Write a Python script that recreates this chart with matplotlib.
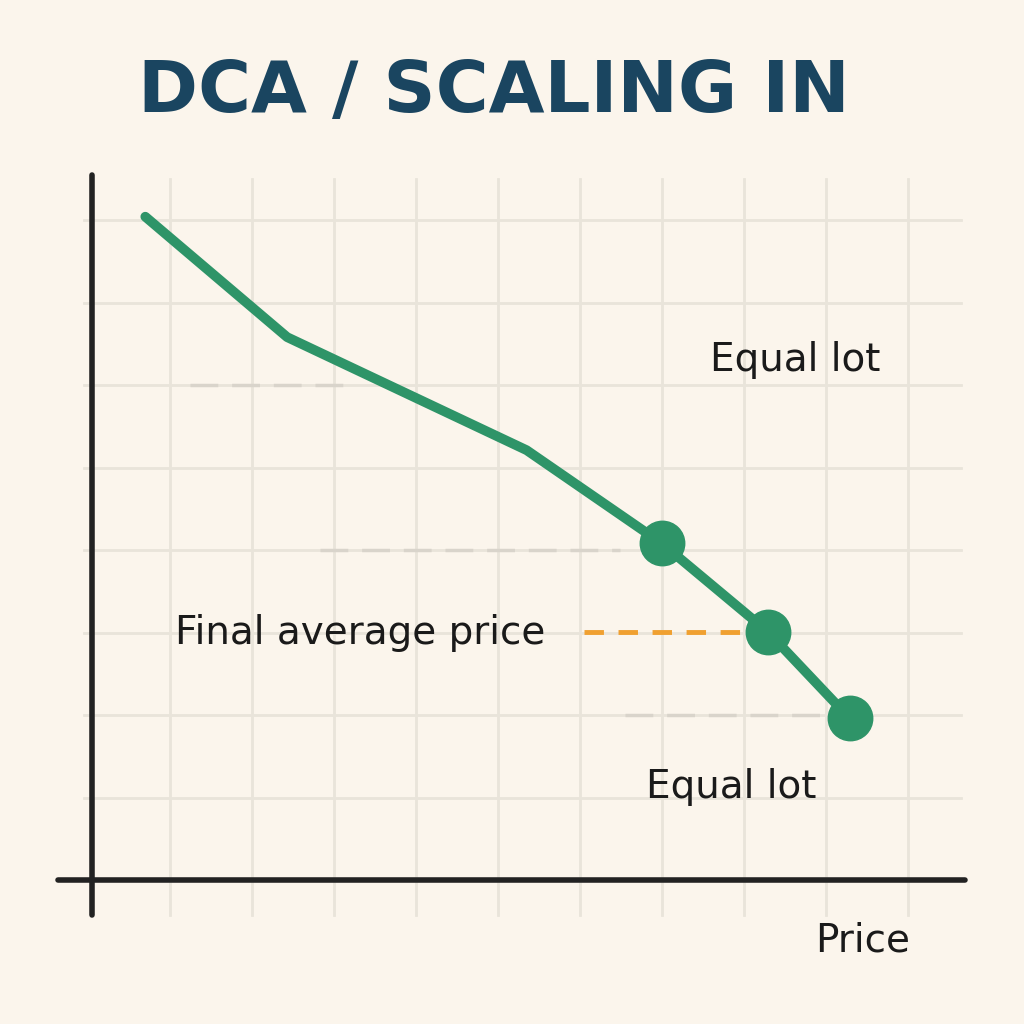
import matplotlib
matplotlib.use("Agg")
import matplotlib.pyplot as plt

x_vals = [0.65, 2.38, 5.30, 6.95, 8.24, 9.24]
y_vals = [8.04, 6.58, 5.21, 4.08, 3.01, 1.96]
marker_idx = [3, 4, 5]
avg_price = 3.01

bg = "#fbf5ec"
green = "#2e9468"
fig = plt.figure(figsize=(10.24, 10.24), dpi=100, facecolor=bg)
ax = fig.add_axes([0, 0, 1, 1])
ax.set_facecolor(bg)
ax.set_xlim(-92/82, (1024-92)/82)
ax.set_ylim(-144/82.5, 880/82.5)
ax.axis("off")

grid_c = "#e9e4da"
for i in range(1, 11):
    ax.plot([i - 0.05, i - 0.05], [-0.43, 8.5], color=grid_c, lw=2, zorder=0)
for j in range(1, 9):
    ax.plot([-0.1, 10.6], [j, j], color=grid_c, lw=2, zorder=0)

ax.plot([0, 0], [-0.42, 8.55], color="#222", lw=4, solid_capstyle="round")
ax.plot([-0.42, 10.65], [0, 0], color="#222", lw=4, solid_capstyle="round")

dash_c = "#d9d4cb"
ax.plot([1.2, 3.15], [6, 6], color=dash_c, lw=2.5, ls=(0, (8, 4)))
ax.plot([2.78, 6.44], [4, 4], color=dash_c, lw=2.5, ls=(0, (8, 4)))
ax.plot([6.5, 8.9], [2, 2], color=dash_c, lw=2.5, ls=(0, (8, 4)))
ax.plot([6.0, 7.95], [avg_price, avg_price], color="#f0a030", lw=3.5, ls=(0, (4, 3)))

ax.plot(x_vals, y_vals, color=green, lw=7, solid_capstyle="round", solid_joinstyle="round")
ax.plot([x_vals[i] for i in marker_idx], [y_vals[i] for i in marker_idx], "o",
        color=green, ms=32)

ax.text(8.57, 6.3, "Equal lot", fontsize=28, ha="center", va="center", color="#1a1a1a")
ax.text(3.27, 3.0, "Final average price", fontsize=28, ha="center", va="center", color="#1a1a1a")
ax.text(7.8, 1.13, "Equal lot", fontsize=28, ha="center", va="center", color="#1a1a1a")
ax.text(9.4, -0.73, "Price", fontsize=28, ha="center", va="center", color="#1a1a1a")
fig.text(0.482, 0.91, "DCA / SCALING IN", fontsize=52, fontweight="bold",
         ha="center", va="center", color="#1a4560")

fig.savefig("out.png", dpi=100, facecolor=bg)
